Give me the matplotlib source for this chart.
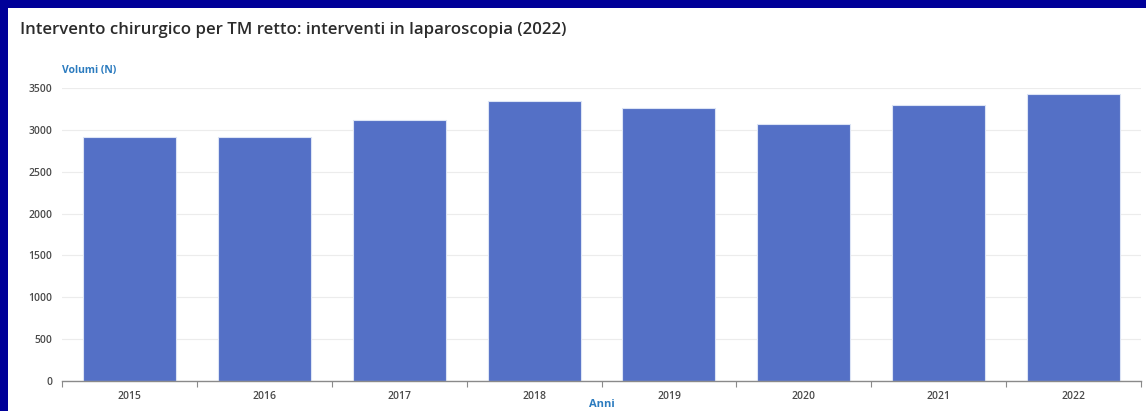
import matplotlib.pyplot as plt
from matplotlib.patches import Rectangle
import numpy as np

# ── Data ──────────────────────────────────────────────────────────────────────
years = ["2015", "2016", "2017", "2018", "2019", "2020", "2021", "2022"]
volumi = [2918, 2915, 3118, 3345, 3261, 3072, 3297, 3432]
y_ticks = [0, 500, 1000, 1500, 2000, 2500, 3000, 3500]

TITLE = "Intervento chirurgico per TM retto: interventi in laparoscopia (2022)"
BAR_COLOR = "#5470c6"
LABEL_BLUE = "#2b7bbf"
TEXT_GREY = "#4a4a4a"

plt.rcParams["font.family"] = ["Open Sans", "DejaVu Sans"]

W, H = 1146, 411
fig = plt.figure(figsize=(W / 100, H / 100), dpi=100)
fig.patch.set_facecolor("#000099")
# white panel over the dark slide background (drawn below the axes)
fig.patches.append(Rectangle((8 / W, 0), 1 - 8 / W, 1 - 8 / H, transform=fig.transFigure,
                             facecolor="white", edgecolor="none", zorder=-5))

ax = fig.add_axes([62 / W, 1 - 381 / H, (1141 - 62) / W, (381 - 88) / H])
ax.set_facecolor("none")
ax.set_zorder(2)

x = np.arange(len(years))
ax.bar(x, volumi, width=0.69, color=BAR_COLOR, edgecolor="#dce4f5", linewidth=0.8, zorder=3)

ax.set_xlim(-0.5, len(years) - 0.5)
ax.set_ylim(0, 3500)
ax.set_yticks(y_ticks)
ax.set_yticklabels([str(v) for v in y_ticks])
ax.grid(axis="y", color="#ececec", linewidth=0.8, zorder=0)

ax.set_xticks(x)
ax.set_xticklabels(years)
ax.set_xticks(np.arange(-0.5, len(years)), minor=True)
ax.tick_params(axis="x", which="major", length=0, pad=7, labelsize=7.5, labelcolor=TEXT_GREY)
ax.tick_params(axis="x", which="minor", length=4, color="#8a8a8a", width=0.8)
ax.tick_params(axis="y", length=0, pad=7, labelsize=7.5, labelcolor=TEXT_GREY)
for lab in ax.get_xticklabels() + ax.get_yticklabels():
    lab.set_fontweight("semibold")

for side in ("top", "right", "left"):
    ax.spines[side].set_visible(False)
ax.spines["bottom"].set_color("#8a8a8a")
ax.spines["bottom"].set_linewidth(1.0)
ax.spines["bottom"].set_zorder(4)

fig.text(20 / W, 1 - 30 / H, TITLE, fontsize=12.1, fontweight="semibold",
         color="#2b2b2b", va="center", ha="left", zorder=3)
fig.text(62 / W, 1 - 70 / H, "Volumi (N)", fontsize=7.5, fontweight="bold",
         color=LABEL_BLUE, va="center", ha="left", zorder=3)
fig.text(602 / W, 1 - 404 / H, "Anni", fontsize=8, fontweight="bold",
         color=LABEL_BLUE, va="center", ha="center", zorder=3)

fig.savefig("out.png", dpi=100, facecolor=fig.get_facecolor())
